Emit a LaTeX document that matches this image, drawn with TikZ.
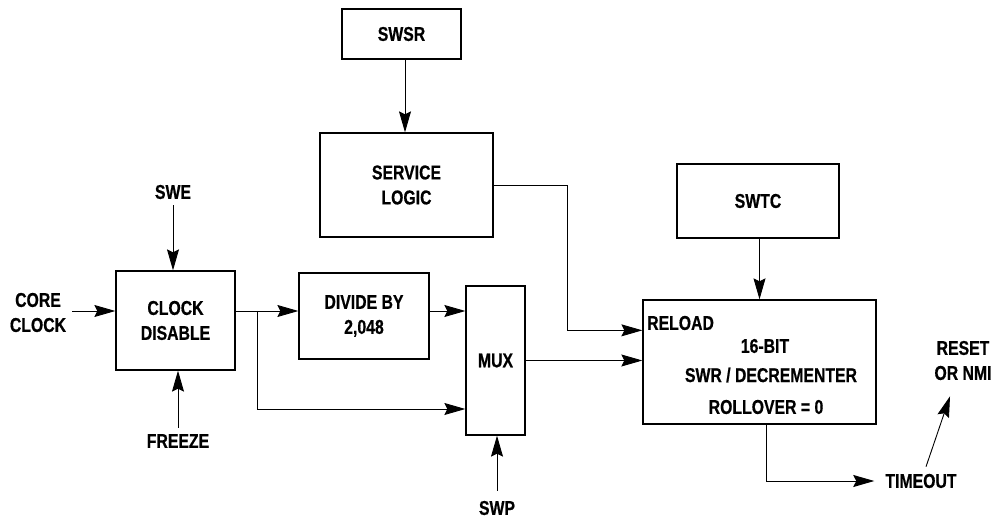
\documentclass[tikz,border=0pt]{standalone}
\usepackage{fontspec}
\setmainfont{Liberation Sans}[FakeStretch=0.79, BoldFeatures={FakeBold=0.6}]
\usetikzlibrary{positioning, calc, arrows.meta}

\tikzset{
    box/.style={draw, line width=1.3pt, inner sep=0pt, align=center},
    lbl/.style={inner sep=2pt, align=center},
    conn/.style={line width=0.9pt, -{Stealth[length=21pt, width=12pt, inset=3pt]}},
    wire/.style={line width=0.9pt}
}

\begin{document}
\begin{tikzpicture}[x=1pt, y=-1pt, font=\fontsize{20}{25}\selectfont\bfseries]

    \useasboundingbox (0,0) rectangle (995,518);

    % Blocks
    \node[box, minimum width=119pt, minimum height=50pt] (swsr) at (401.5, 34) {SWSR};
    \node[box, minimum width=173pt, minimum height=104pt] (svc) at (406.5, 185) {SERVICE\\LOGIC};
    \node[box, minimum width=119pt, minimum height=99pt] (clkdis) at (175.5, 320.5) {CLOCK\\DISABLE};
    \node[box, minimum width=130pt, minimum height=86pt] (divide) at (364, 316) {DIVIDE BY\\2,048};
    \node[box, minimum width=59pt, minimum height=149pt] (mux) at (495.5, 360.5) {MUX};
    \node[box, minimum width=162pt, minimum height=74pt] (swtc) at (758, 201) {SWTC};
    \node[box, minimum width=233pt, minimum height=124pt] (counter) at (759.5, 362) {};

    % Text inside the counter
    \node[lbl, anchor=west, inner sep=0pt] (reloadtxt) at (647, 323) {RELOAD};
    \node[lbl] (bits) at (765, 346) {16-BIT};
    \node[lbl] (decr) at (771, 375) {SWR / DECREMENTER};
    \node[lbl] (roll) at (766, 407) {ROLLOVER = 0};

    % Outside labels
    \node[lbl] (core) at (38, 312.5) {CORE\\CLOCK};
    \node[lbl] (swe) at (173, 192) {SWE};
    \node[lbl] (freeze) at (178, 441) {FREEZE};
    \node[lbl] (swp) at (497, 508) {SWP};
    \node[lbl] (timeout) at (921, 481) {TIMEOUT};
    \node[lbl] (reset) at (963, 360.5) {RESET\\OR NMI};

    % Helper points
    \coordinate (tap) at (257, 311);
    \coordinate (muxlo) at ($(mux.west)+(0,48.5)$);
    \coordinate (reload) at ($(counter.north west)+(0,31)$);
    \coordinate (cntout) at ($(counter.south)+(6.5,0)$);

    % Clock path
    \draw[conn, shorten <=4pt] (core.east |- tap) -- (clkdis.west |- tap);
    \draw[conn, shorten <=4pt] (swe.south) -- (swe.south |- clkdis.north);
    \draw[conn, shorten <=4pt] (freeze.north) -- (freeze.north |- clkdis.south);
    \draw[conn] (clkdis.east |- tap) -- (divide.west |- tap);
    \draw[conn] (tap) |- (muxlo);
    \draw[conn] (divide.east |- tap) -- (mux.west |- tap);
    \draw[conn, shorten <=8pt] (swp.north) -- (swp.north |- mux.south);

    % Into the counter
    \draw[conn] (mux.east) -- (counter.west |- mux.east);
    \draw[conn] (swsr.south -| 405,0) -- (svc.north -| 405,0);
    \draw[conn] (svc.east) -- ++(74,0) |- (reload);
    \draw[conn] (swtc.south -| counter.north) -- (counter.north);

    % Timeout
    \draw[conn, shorten >=9pt] (cntout) |- (timeout.west);
    \draw[conn] ($(timeout.north)+(5,-5)$) -- ($(reset.south)+(-13,14)$);

\end{tikzpicture}
\end{document}
